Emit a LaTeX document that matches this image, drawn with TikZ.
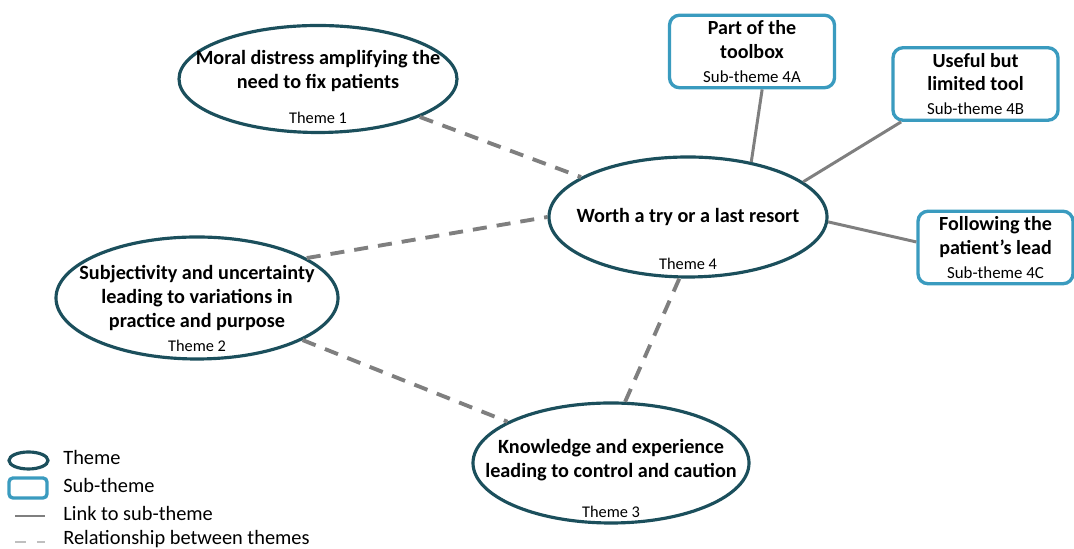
\documentclass[tikz,border=0pt]{standalone}
\usepackage{fontspec}
\setmainfont{Carlito}
\usepackage{tikz}
\usetikzlibrary{shapes}
\usetikzlibrary{positioning}

\definecolor{themeteal}{HTML}{1B4F5C}
\definecolor{subblue}{HTML}{3A9BBF}
\definecolor{linkgray}{HTML}{7F7F7F}
\definecolor{keygray}{HTML}{BFBFBF}

\newcommand{\subtagfont}{\fontsize{9.6}{11}\selectfont\mdseries}

\tikzset{
	theme/.style={ellipse, draw=themeteal, line width=1.8pt, fill=white, inner sep=0pt},
	themetitle/.style={align=center, font=\fontsize{11.5}{13.8}\selectfont\bfseries, inner sep=0pt},
	themetag/.style={font=\fontsize{9.3}{11}\selectfont, inner sep=0pt},
	subtheme/.style={rectangle, rounded corners=0.2cm, draw=subblue, line width=1.9pt, fill=white,
			minimum width=3.3cm, minimum height=1.45cm, align=center, inner sep=1pt,
			font=\fontsize{11.4}{13.6}\selectfont\bfseries},
	sublink/.style={draw=linkgray, line width=1.7pt},
	relation/.style={draw=linkgray, line width=2.2pt, dash pattern=on 8pt off 5.7pt},
	keytext/.style={anchor=west, inner sep=0pt, font=\fontsize{11.6}{13}\selectfont}
}

\begin{document}
\begin{tikzpicture}
	\useasboundingbox (0, 0) rectangle (21.48, 10.98);

	% themes
	\node[theme, minimum width=5.56cm, minimum height=2.14cm] (t1) at (6.36, 9.4) {};
	\node[theme, minimum width=5.64cm, minimum height=2.44cm] (t2) at (3.94, 5.02) {};
	\node[theme, minimum width=5.52cm, minimum height=2.4cm] (t3) at (12.22, 1.72) {};
	\node[theme, minimum width=5.56cm, minimum height=2.4cm] (t4) at (13.76, 6.64) {};

	\node[themetitle] (t1title) at ([yshift=0.16cm]t1.center) {Moral distress amplifying the\\need to fix patients};
	\node[themetitle] (t2title) at (t2.center) {Subjectivity and uncertainty\\leading to variations in\\practice and purpose};
	\node[themetitle] (t3title) at ([yshift=0.06cm]t3.center) {Knowledge and experience\\leading to control and caution};
	\node[themetitle] (t4title) at (t4.center) {Worth a try or a last resort};

	\node[themetag] (t1tag) at ([yshift=0.32cm]t1.south) {Theme 1};
	\node[themetag] (t2tag) at ([yshift=0.3cm]t2.south) {Theme 2};
	\node[themetag] (t3tag) at ([yshift=0.26cm]t3.south) {Theme 3};
	\node[themetag] (t4tag) at ([yshift=0.3cm]t4.south) {Theme 4};

	% sub-themes of theme 4
	\node[subtheme] (s4a) at (15.04, 9.95) {Part of the\\toolbox\\{\subtagfont Sub-theme 4A}};
	\node[subtheme] (s4b) at (19.51, 9.3) {Useful but\\limited tool\\{\subtagfont Sub-theme 4B}};
	\node[subtheme, minimum width=3.1cm] (s4c) at (19.91, 6.03) {Following the\\patient's lead\\{\subtagfont Sub-theme 4C}};

	% links
	\draw[relation] (t1) -- (t4);
	\draw[relation] (t2.20) -- (t4.west);
	\draw[relation] (t2) -- (t3);
	\draw[relation] (t3.77) -- (t4.-98);
	\draw[sublink] (s4a.-75) -- (t4.41);
	\draw[sublink] (s4b.-153) -- (t4.17);
	\draw[sublink] (t4.-2) -- (s4c.176);

	% legend
	\node[theme, minimum width=0.78cm, minimum height=0.34cm] (keytheme) at (0.57, 1.77) {};
	\node[subtheme, minimum width=0.76cm, minimum height=0.4cm, rounded corners=0.08cm] (keysub) at (0.56, 1.22) {};
	\coordinate (keylinkA) at (0.3, 0.66);
	\coordinate (keylinkB) at (0.9, 0.66);
	\coordinate (keyrelA) at (0.3, 0.14);
	\coordinate (keyrelB) at (0.9, 0.14);
	\draw[sublink] (keylinkA) -- (keylinkB);
	\draw[keygray, line width=1.7pt, dash pattern=on 6.2pt off 6.2pt] (keyrelA) -- (keyrelB);

	\node[keytext] (keythemetext) at (1.26, 1.82) {Theme};
	\node[keytext] (keysubtext) at (1.26, 1.26) {Sub-theme};
	\node[keytext] (keylinktext) at (1.26, 0.7) {Link to sub-theme};
	\node[keytext] (keyreltext) at (1.26, 0.2) {Relationship between themes};
\end{tikzpicture}
\end{document}
